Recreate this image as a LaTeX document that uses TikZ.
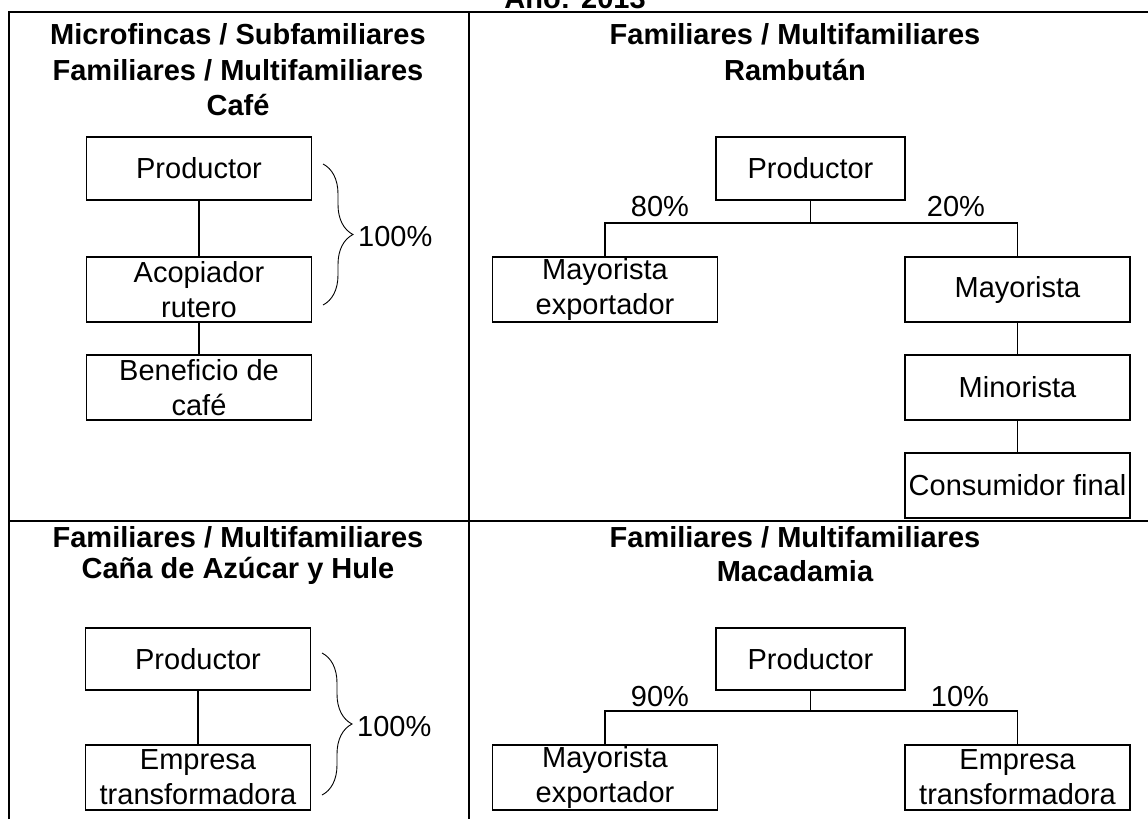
\documentclass[tikz,border=0pt]{standalone}
\usepackage{fontspec}
\setmainfont{Liberation Sans}
\usetikzlibrary{decorations.pathreplacing}
\begin{document}
\begin{tikzpicture}[x=1pt,y=-1pt,
  frame/.style={line width=2.2pt},
  stagebox/.style={draw, line width=1.6pt, inner sep=0pt, align=center,
    font=\fontsize{29}{35}\selectfont},
  wbox/.style={stagebox, minimum width=225pt, minimum height=65pt},
  pbox/.style={stagebox, minimum width=189pt, minimum height=63pt},
  link/.style={line width=1.2pt},
  pct/.style={font=\fontsize{29}{35}\selectfont, inner sep=0pt},
  ttl/.style={font=\bfseries\fontsize{29}{35}\selectfont, inner sep=0pt, anchor=center},
  bracestyle/.style={line width=0.9pt, decorate, decoration={brace, amplitude=30pt, aspect=0.5}}
]
\useasboundingbox (0,0) rectangle (1148,819);
% title (clipped at top, as in the reference)
\node[font=\bfseries\fontsize{29}{35}\selectfont, anchor=base, inner sep=0pt] (year) at (575,9) {Año: 2013};
% frame
\draw[frame] (9,819) -- (9,12) -- (1148,12);
\draw[frame] (469,12) -- (469,819);
\draw[frame] (9,521) -- (1148,521);

% ---------- top-left: Café
\node[ttl] (t1a) at (238,34) {Microfincas / Subfamiliares};
\node[ttl] (t1b) at (238,70) {Familiares / Multifamiliares};
\node[ttl] (t1c) at (238,105) {Café};
\node[wbox, minimum height=63pt] (lp1) at (199,168.5) {Productor};
\node[wbox] (lp2) at (199,289.5) {Acopiador\\rutero};
\node[wbox] (lp3) at (199,387.5) {Beneficio de\\café};
\draw[link] (lp1) -- (lp2);
\draw[link] (lp2) -- (lp3);
\coordinate (lb1) at (323,164);
\coordinate (lb2) at (323,305);
\draw[bracestyle] (lb1) -- (lb2);
\node[pct, anchor=west] (l100) at (358,237) {100\%};

% ---------- top-right: Rambután
\node[ttl] (t2a) at (795,34) {Familiares / Multifamiliares};
\node[ttl] (t2b) at (795,70) {Rambután};
\node[pbox] (rp1) at (810.5,168.5) {Productor};
\node[wbox] (rme) at (605,289.5) {Mayorista\\exportador};
\node[wbox] (rm) at (1017.5,289.5) {Mayorista};
\node[wbox] (rmi) at (1017.5,387.5) {Minorista};
\node[wbox] (rc) at (1017.5,485.5) {Consumidor final};
\coordinate (rj) at (810.5,223);
\draw[link] (rp1) -- (rj);
\draw[link] (rme.north) |- (rj) -| (rm.north);
\draw[link] (rm) -- (rmi);
\draw[link] (rmi) -- (rc);
\node[pct] (r80) at (660,207) {80\%};
\node[pct] (r20) at (956,207) {20\%};

% ---------- bottom-left: Caña de Azúcar y Hule
\node[ttl] (t3a) at (238,537) {Familiares / Multifamiliares};
\node[ttl] (t3b) at (238,571) {Caña de Azúcar y Hule};
\node[wbox, minimum height=62pt] (blp) at (198,659) {Productor};
\node[wbox] (ble) at (198,777.5) {Empresa\\transformadora};
\draw[link] (blp) -- (ble);
\coordinate (bb1) at (322,653);
\coordinate (bb2) at (322,795);
\draw[bracestyle] (bb1) -- (bb2);
\node[pct, anchor=west] (b100) at (357,727) {100\%};

% ---------- bottom-right: Macadamia
\node[ttl] (t4a) at (795,537) {Familiares / Multifamiliares};
\node[ttl] (t4b) at (795,571) {Macadamia};
\node[pbox, minimum height=62pt] (brp) at (810.5,659) {Productor};
\node[wbox] (brme) at (605,777.5) {Mayorista\\exportador};
\node[wbox] (bret) at (1017.5,777.5) {Empresa\\transformadora};
\coordinate (bj) at (810.5,711);
\draw[link] (brp) -- (bj);
\draw[link] (brme.north) |- (bj) -| (bret.north);
\node[pct] (b90) at (660,697) {90\%};
\node[pct] (b10) at (960,697) {10\%};
\end{tikzpicture}
\end{document}
